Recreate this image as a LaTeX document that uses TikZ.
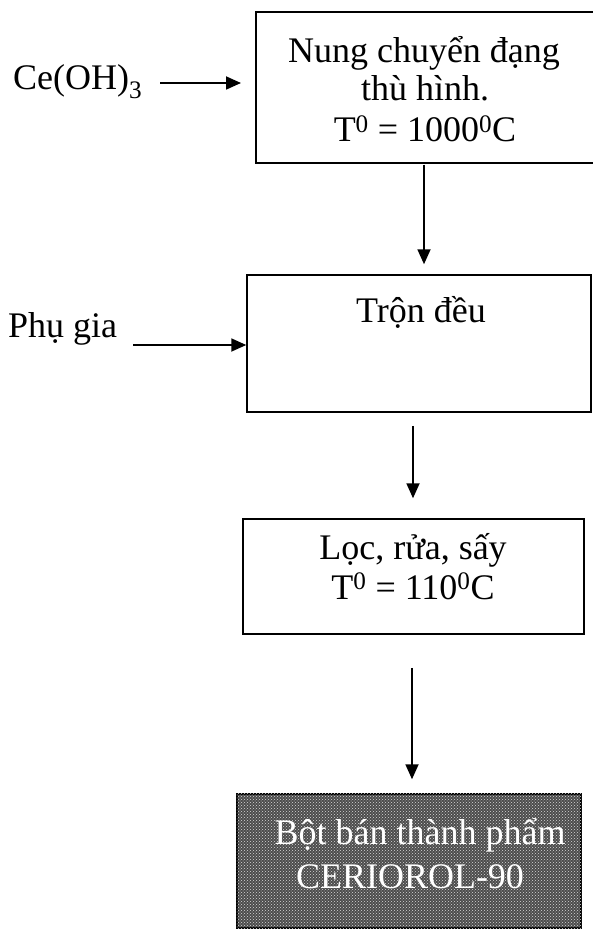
\documentclass[tikz,border=0pt]{standalone}
\usepackage{fontspec}
\setmainfont{Liberation Serif}
\usetikzlibrary{arrows.meta,patterns}
\begin{document}
\begin{tikzpicture}[x=1pt,y=-1pt,
  box/.style={draw,line width=1.5pt,rectangle,inner sep=0pt},
  txt/.style={font=\fontsize{36}{40}\selectfont,inner sep=0pt,anchor=base},
  arr/.style={line width=1.8pt,-{Triangle[length=15pt,width=13pt]}}]
\useasboundingbox (0,0) rectangle (593,936);
% boxes
\node[box,minimum width=345pt,minimum height=151pt] (b1) at (428.5,87.5) {};
\node[box,minimum width=344pt,minimum height=137pt] (b2) at (419,343.5) {};
\node[box,minimum width=341pt,minimum height=115pt] (b3) at (413.5,576.5) {};
\node[box,fill=black!70,minimum width=344pt,minimum height=134pt] (b4) at (409,861) {};
\fill[pattern=crosshatch dots,pattern color=white!85!black] (b4.south west) rectangle (b4.north east);
% texts
\node[txt] (t1a) at (424,63) {Nung chuyển đạng};
\node[txt] (t1b) at (425,101) {thù hình.};
\node[txt] (t1c) at (425,142) {T\textsuperscript{0} = 1000\textsuperscript{0}C};
\node[txt] (t2) at (421,322) {Trộn đều};
\node[txt] (t3a) at (413,559) {Lọc, rửa, sấy};
\node[txt] (t3b) at (413,599) {T\textsuperscript{0} = 110\textsuperscript{0}C};
\node[txt,text=white] (t4a) at (420,844) {Bột bán thành phẩm};
\node[txt,text=white] (t4b) at (410,888) {CERIOROL-90};
\node[txt,anchor=base west] (ce) at (13,90) {Ce(OH)\textsubscript{3}};
\node[txt,anchor=base west] (pg) at (8,337) {Phụ gia};
% inputs
\coordinate (ceS) at (160,83);
\coordinate (ceE) at (241,83);
\draw[arr] (ceS) -- (ceE);
\coordinate (pgS) at (133,345);
\draw[arr] (pgS) -- (pgS -| b2.west);
% flow arrows
\coordinate (x2) at (424,0);
\coordinate (x3) at (413,0);
\coordinate (x4) at (412,0);
\draw[arr,shorten <=1pt,shorten >=10pt] (b1.south -| x2) -- (b2.north -| x2);
\draw[arr,shorten <=13pt,shorten >=20pt] (b2.south -| x3) -- (b3.north -| x3);
\draw[arr,shorten <=33pt,shorten >=14pt] (b3.south -| x4) -- (b4.north -| x4);
\end{tikzpicture}
\end{document}
